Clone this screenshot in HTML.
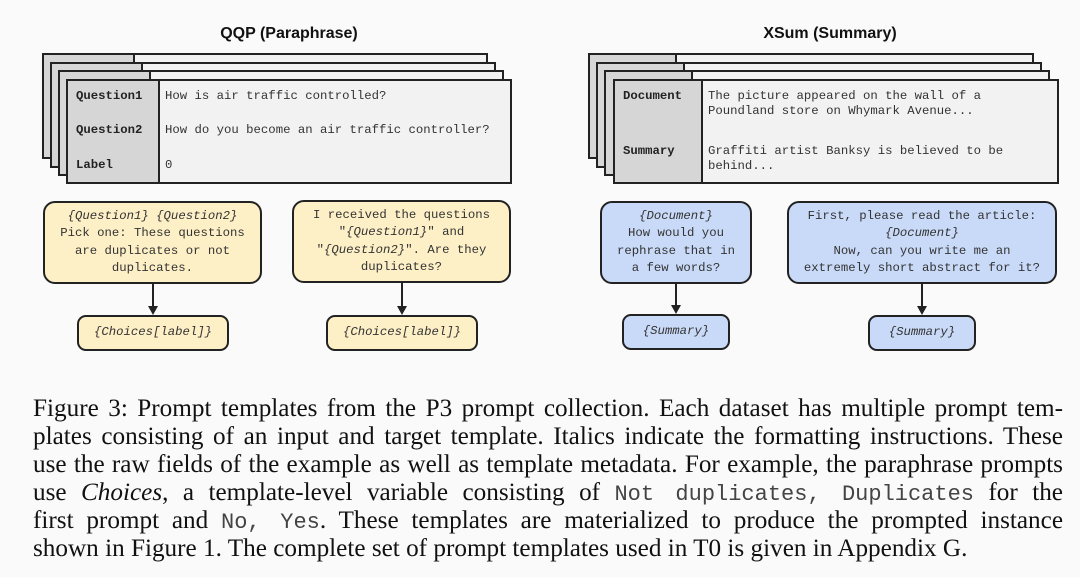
<!DOCTYPE html>
<html><head><meta charset="utf-8"><style>
body{margin:0;width:1080px;height:577px;background:#fafafa;position:relative;overflow:hidden;font-family:"Liberation Mono",monospace}
.card{position:absolute;box-sizing:border-box;border:2px solid #222;background:#f2f2f2}
.lab{position:absolute;left:0;top:0;bottom:0;background:#d6d6d6;border-right:2px solid #222}
.t{position:absolute;font-size:12.3px;color:#333;white-space:nowrap;line-height:15px}
.b{font-weight:bold;color:#222}
.box{position:absolute;box-sizing:border-box;border:2px solid #222;border-radius:12px;display:flex;align-items:center;justify-content:center;text-align:center;font-size:12.3px;line-height:17.5px;color:#333}
.y{background:#fdefc6}.bl{background:#c9daf8}
.tg{border-radius:9px}
i{font-style:italic}
.title{position:absolute;font-family:"Liberation Sans",sans-serif;font-weight:bold;font-size:16px;color:#111;text-align:center;width:300px}
.cap{position:absolute;left:33px;width:1030px;font-family:"Liberation Serif",serif;font-size:25.2px;color:#111;line-height:28px;text-align:justify;text-align-last:justify;white-space:nowrap}
.cap code{font-family:"Liberation Mono",monospace;font-size:22px;color:#444}
.vl{position:absolute;width:2px;background:#222}
.ah{position:absolute;width:0;height:0;border-left:5px solid transparent;border-right:5px solid transparent;border-top:9px solid #222}
</style></head><body>
<div class="title" style="left:139px;top:25px">QQP (Paraphrase)</div>
<div class="title" style="left:680px;top:25px">XSum (Summary)</div>

<div class="card" style="left:42px;top:53px;width:446px;height:106px"><div class="lab" style="width:89px"></div></div>
<div class="card" style="left:50px;top:62px;width:446px;height:106px"><div class="lab" style="width:89px"></div></div>
<div class="card" style="left:58px;top:70px;width:446px;height:106px"><div class="lab" style="width:89px"></div></div>
<div class="card" style="left:66px;top:79px;width:446px;height:105px"><div class="lab" style="width:90px"></div></div>
<div class="t b" style="left:76px;top:89px">Question1</div>
<div class="t b" style="left:76px;top:123px">Question2</div>
<div class="t b" style="left:76px;top:158px">Label</div>
<div class="t" style="left:165px;top:89px">How is air traffic controlled?</div>
<div class="t" style="left:165px;top:123px">How do you become an air traffic controller?</div>
<div class="t" style="left:165px;top:158px">0</div>

<div class="card" style="left:588px;top:53px;width:446px;height:106px"><div class="lab" style="width:85px"></div></div>
<div class="card" style="left:596px;top:62px;width:446px;height:106px"><div class="lab" style="width:85px"></div></div>
<div class="card" style="left:604px;top:70px;width:446px;height:106px"><div class="lab" style="width:85px"></div></div>
<div class="card" style="left:613px;top:79px;width:446px;height:105px"><div class="lab" style="width:86px"></div></div>
<div class="t b" style="left:623px;top:89px">Document</div>
<div class="t b" style="left:623px;top:144px">Summary</div>
<div class="t" style="left:708px;top:89px">The picture appeared on the wall of a<br>Poundland store on Whymark Avenue...</div>
<div class="t" style="left:708px;top:144px">Graffiti artist Banksy is believed to be<br>behind...</div>

<div class="box y" style="left:43px;top:201px;width:219px;height:83px"><div><i>{Question1} {Question2}</i><br>Pick one: These questions<br>are duplicates or not<br>duplicates.</div></div>
<div class="vl" style="left:152px;top:284px;height:24px"></div><div class="ah" style="left:148px;top:306px"></div>
<div class="box y tg" style="left:77px;top:315px;width:152px;height:36px"><i>{Choices[label]}</i></div>

<div class="box y" style="left:292px;top:200px;width:219px;height:83px"><div>I received the questions<br>"<i>{Question1}</i>" and<br>"<i>{Question2}</i>". Are they<br>duplicates?</div></div>
<div class="vl" style="left:401px;top:283px;height:25px"></div><div class="ah" style="left:397px;top:306px"></div>
<div class="box y tg" style="left:326px;top:315px;width:152px;height:36px"><i>{Choices[label]}</i></div>

<div class="box bl" style="left:600px;top:201px;width:152px;height:83px"><div><i>{Document}</i><br>How would you<br>rephrase that in<br>a few words?</div></div>
<div class="vl" style="left:675px;top:284px;height:23px"></div><div class="ah" style="left:671px;top:305px"></div>
<div class="box bl tg" style="left:622px;top:314px;width:108px;height:36px"><i>{Summary}</i></div>

<div class="box bl" style="left:787px;top:201px;width:270px;height:83px"><div>First, please read the article:<br><i>{Document}</i><br>Now, can you write me an<br>extremely short abstract for it?</div></div>
<div class="vl" style="left:921px;top:284px;height:24px"></div><div class="ah" style="left:917px;top:306px"></div>
<div class="box bl tg" style="left:868px;top:315px;width:108px;height:36px"><i>{Summary}</i></div>

<div class="cap" style="top:395px">Figure 3: Prompt templates from the P3 prompt collection. Each dataset has multiple prompt tem-</div>
<div class="cap" style="top:423px">plates consisting of an input and target template. Italics indicate the formatting instructions. These</div>
<div class="cap" style="top:451px">use the raw fields of the example as well as template metadata. For example, the paraphrase prompts</div>
<div class="cap" style="top:479px">use <i style="font-family:'Liberation Serif',serif">Choices</i>, a template-level variable consisting of <code>Not duplicates, Duplicates</code> for the</div>
<div class="cap" style="top:507px">first prompt and <code>No, Yes</code>. These templates are materialized to produce the prompted instance</div>
<div class="cap" style="top:535px;text-align-last:left">shown in Figure 1. The complete set of prompt templates used in T0 is given in Appendix G.</div>
</body></html>
